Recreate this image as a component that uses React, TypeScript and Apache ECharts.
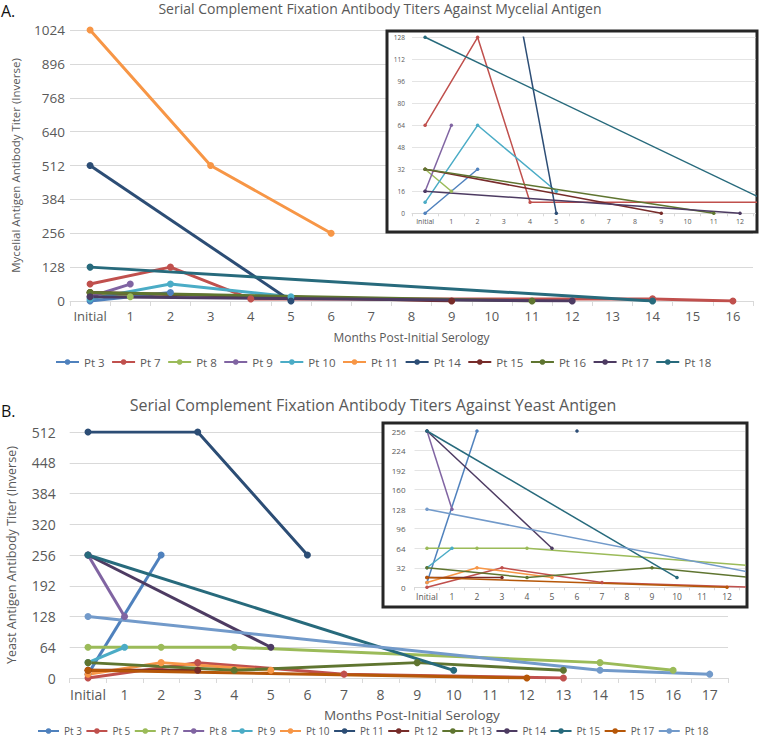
import React, { useEffect, useRef } from 'react';
import * as echarts from 'echarts';

// ---------- DATA ----------
// x = months post-initial serology (0 = "Initial"), y = inverse titer
const MYC_CATEGORIES = ['Initial', '1', '2', '3', '4', '5', '6', '7', '8', '9', '10', '11', '12', '13', '14', '15', '16'];
const YEAST_CATEGORIES = ['Initial', '1', '2', '3', '4', '5', '6', '7', '8', '9', '10', '11', '12', '13', '14', '15', '16', '17'];
const INSET_MONTHS = [0, 1, 2, 3, 4, 5, 6, 7, 8, 9, 10, 11, 12];

const MYC_NAMES = ['Pt 3', 'Pt 7', 'Pt 8', 'Pt 9', 'Pt 10', 'Pt 11', 'Pt 14', 'Pt 15', 'Pt 16', 'Pt 17', 'Pt 18'];
const mycPt3 = [[0, 0], [2, 32]];
const mycPt7 = [[0, 64], [2, 128], [4, 8], [14, 8], [16, 0]];
const mycPt8 = [[0, 32], [1, 16]];
const mycPt9 = [[0, 16], [1, 64]];
const mycPt10 = [[0, 8], [2, 64], [5, 16]];
const mycPt11 = [[0, 1024], [3, 512], [6, 256]];
const mycPt14 = [[0, 512], [5, 0]];
const mycPt15 = [[0, 32], [9, 0]];
const mycPt16 = [[0, 32], [11, 0]];
const mycPt17 = [[0, 16], [12, 0]];
const mycPt18 = [[0, 128], [14, 0]];
const MYC_VALUES = [mycPt3, mycPt7, mycPt8, mycPt9, mycPt10, mycPt11, mycPt14, mycPt15, mycPt16, mycPt17, mycPt18];

const YEAST_NAMES = ['Pt 3', 'Pt 5', 'Pt 7', 'Pt 8', 'Pt 9', 'Pt 10', 'Pt 11', 'Pt 12', 'Pt 13', 'Pt 14', 'Pt 15', 'Pt 17', 'Pt 18'];
const ysPt3 = [[0, 8], [2, 256]];
const ysPt5 = [[0, 0], [3, 32], [7, 8], [13, 0]];
const ysPt7 = [[0, 64], [2, 64], [4, 64], [14, 32], [16, 16]];
const ysPt8 = [[0, 256], [1, 128]];
const ysPt9 = [[0, 32], [1, 64]];
const ysPt10 = [[0, 8], [2, 32], [5, 16]];
const ysPt11 = [[0, 512], [3, 512], [6, 256]];
const ysPt12 = [[0, 16], [3, 16]];
const ysPt13 = [[0, 32], [4, 16], [9, 32], [13, 16]];
const ysPt14 = [[0, 256], [5, 64]];
const ysPt15 = [[0, 256], [10, 16]];
const ysPt17 = [[0, 16], [12, 0]];
const ysPt18 = [[0, 128], [14, 16], [17, 8]];
const YEAST_VALUES = [ysPt3, ysPt5, ysPt7, ysPt8, ysPt9, ysPt10, ysPt11, ysPt12, ysPt13, ysPt14, ysPt15, ysPt17, ysPt18];

// ---------- STYLE ----------
const MYC_COLORS = ['#4F81BD', '#C0504D', '#9BBB59', '#8064A2', '#4BACC6', '#F79646', '#2C4D75', '#772C2A', '#5F7530', '#4D3B62', '#276A7C'];
const YEAST_COLORS = ['#4F81BD', '#C0504D', '#9BBB59', '#8064A2', '#4BACC6', '#F79646', '#2C4D75', '#772C2A', '#5F7530', '#4D3B62', '#276A7C', '#B65708', '#729ACA'];

const FONT = 'Open Sans';
const GRAY = '#595959';
const GRID_LINE = '#D9D9D9';

function mainX(gridIndex: number, cats: string[], fontSize: number, nameSize: number, nameGap: number, margin: number, namePad: number) {
  return {
    type: 'category', gridIndex, data: cats, boundaryGap: true,
    axisLine: { lineStyle: { color: GRID_LINE, width: 1 } },
    axisTick: { show: true, interval: 0, length: 5, lineStyle: { color: GRID_LINE } },
    axisLabel: { interval: 0, color: GRAY, fontSize, fontFamily: FONT, margin },
    splitLine: { show: false },
    name: 'Months Post-Initial Serology', nameLocation: 'middle', nameGap,
    nameTextStyle: { color: GRAY, fontSize: nameSize, fontFamily: FONT, padding: [0, 0, 0, namePad] },
  };
}

function insetX(gridIndex: number, max: number, fontSize: number) {
  const ticks = [-0.5, ...INSET_MONTHS.map((m) => m + 0.5)];
  return {
    type: 'value', gridIndex, min: -0.5, max, z: 6,
    axisLine: { onZero: false, lineStyle: { color: GRID_LINE, width: 1 } },
    axisTick: { show: true, customValues: ticks, length: 3, lineStyle: { color: GRID_LINE } },
    axisLabel: {
      customValues: INSET_MONTHS, color: GRAY, fontSize, fontFamily: FONT, margin: 5,
      formatter: (v: number) => (v === 0 ? 'Initial' : String(v)),
    },
    splitLine: { show: false },
  };
}

function yAx(gridIndex: number, max: number, interval: number, fontSize: number, margin: number, z: number, name?: string, nameGap?: number, nameSize?: number) {
  const ax: any = {
    type: 'value', gridIndex, min: 0, max, interval, z,
    axisLine: { show: false }, axisTick: { show: false },
    axisLabel: { color: GRAY, fontSize, fontFamily: FONT, margin, formatter: (v: number) => String(v) },
    splitLine: { lineStyle: { color: z > 0 ? '#E4E4E4' : GRID_LINE, width: 1 } },
  };
  if (name) {
    ax.name = name; ax.nameLocation = 'middle'; ax.nameGap = nameGap;
    ax.nameTextStyle = { color: GRAY, fontSize: nameSize, fontFamily: FONT };
  }
  return ax;
}

function buildOption() {
  const series: any[] = [];
  const addSet = (prefix: string, names: string[], values: number[][][], colors: string[], mainAxis: number, insetAxis: number) => {
    names.forEach((n, i) => {
      const c = colors[i];
      series.push({
        type: 'line', name: prefix + n, xAxisIndex: mainAxis, yAxisIndex: mainAxis, data: values[i],
        symbol: 'circle', symbolSize: 7, itemStyle: { color: c }, lineStyle: { color: c, width: 3 },
        z: 2, silent: true, emphasis: { disabled: true },
      });
      series.push({
        type: 'line', name: prefix + n, xAxisIndex: insetAxis, yAxisIndex: insetAxis, data: values[i],
        symbol: 'circle', symbolSize: 3.5, itemStyle: { color: c }, lineStyle: { color: c, width: 1.5 },
        z: 7, clip: true, silent: true, emphasis: { disabled: true },
      });
    });
  };
  addSet('A|', MYC_NAMES, MYC_VALUES, MYC_COLORS, 0, 1);
  addSet('B|', YEAST_NAMES, YEAST_VALUES, YEAST_COLORS, 2, 3);

  return {
    animation: false,
    backgroundColor: '#ffffff',
    textStyle: { fontFamily: FONT },
    grid: [
      { left: 70, top: 30, width: 683, height: 271, outerBoundsMode: 'none' },
      { left: 412, top: 37.3, width: 343.5, height: 176, outerBoundsMode: 'none', z: 6 },
      { left: 69.7, top: 432, width: 658.3, height: 246, outerBoundsMode: 'none' },
      { left: 414.5, top: 431, width: 330.5, height: 156.3, outerBoundsMode: 'none', z: 6 },
    ],
    xAxis: [
      mainX(0, MYC_CATEGORIES, 13, 12, 30, 8, 0),
      insetX(1, 12.59, 7),
      mainX(2, YEAST_CATEGORIES, 14, 13.5, 30, 9, 26),
      insetX(3, 12.72, 8.5),
    ],
    yAxis: [
      yAx(0, 1024, 128, 13.5, 5, 0, 'Mycelial Antigen Antibody Titer (Inverse)', 49, 11.5),
      yAx(1, 128, 16, 6.5, 7, 6),
      yAx(2, 512, 64, 14, 14, 0, 'Yeast Antigen Antibody Titer (Inverse)', 52, 12.5),
      yAx(3, 256, 32, 8, 9, 6),
    ],
    legend: [
      {
        data: MYC_NAMES.map((n) => 'A|' + n), left: 55, top: 356, padding: 0, itemWidth: 23, itemHeight: 7, itemGap: 6.5,
        selectedMode: false, formatter: (n: string) => n.split('|')[1],
        textStyle: { color: GRAY, fontSize: 11.5, fontFamily: FONT },
      },
      {
        data: YEAST_NAMES.map((n) => 'B|' + n), left: 37, top: 726, padding: 0, itemWidth: 21, itemHeight: 7, itemGap: 3.5,
        selectedMode: false, formatter: (n: string) => n.split('|')[1],
        textStyle: { color: GRAY, fontSize: 10, fontFamily: FONT },
      },
    ],
    graphic: [
      { type: 'rect', z: 5, silent: true, shape: { x: 387, y: 31, width: 370, height: 201 }, style: { fill: '#ffffff', stroke: '#262626', lineWidth: 3 } },
      { type: 'rect', z: 5, silent: true, shape: { x: 383, y: 423, width: 364, height: 184 }, style: { fill: '#ffffff', stroke: '#262626', lineWidth: 3 } },
      { type: 'text', z: 8, x: 380, y: 1, style: { text: 'Serial Complement Fixation Antibody Titers Against Mycelial Antigen', fill: GRAY, font: `14px "${FONT}"`, textAlign: 'center', textVerticalAlign: 'top' } },
      { type: 'text', z: 8, x: 1, y: 3, style: { text: 'A.', fill: '#111111', font: `16px "${FONT}"`, textVerticalAlign: 'top' } },
      { type: 'text', z: 8, x: 373, y: 397, style: { text: 'Serial Complement Fixation Antibody Titers Against Yeast Antigen', fill: GRAY, font: `16px "${FONT}"`, textAlign: 'center', textVerticalAlign: 'top' } },
      { type: 'text', z: 8, x: 1, y: 403, style: { text: 'B.', fill: '#111111', font: `16px "${FONT}"`, textVerticalAlign: 'top' } },
    ],
    series,
  };
}

export default function App() {
  const ref = useRef<HTMLDivElement>(null);
  useEffect(() => {
    document.body.style.margin = '0';
    if (!ref.current) return;
    const chart = echarts.init(ref.current, null, { renderer: 'svg' });
    chart.setOption(buildOption() as any);
    return () => chart.dispose();
  }, []);
  return <div ref={ref} style={{ width: 760, height: 741 }} />;
}
